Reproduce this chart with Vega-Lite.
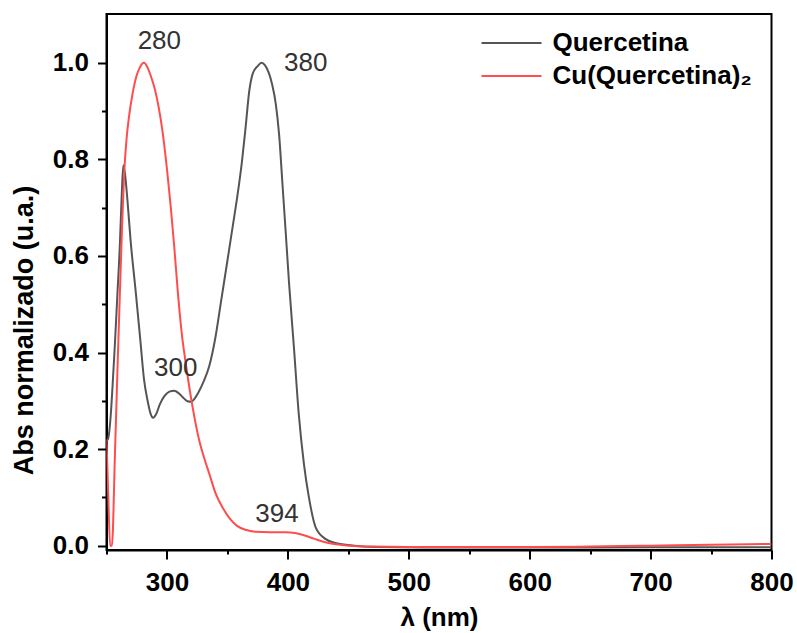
{
  "$schema": "https://vega.github.io/schema/vega-lite/v6.json",
  "autosize": {"type": "none"},
  "width": 665,
  "height": 536,
  "padding": {"left": 106.5, "top": 14, "right": 25.5, "bottom": 83},
  "background": "white",
  "config": {"view": {"stroke": "black", "strokeWidth": 2}, "font": "Liberation Sans"},
  "datasets": {
    "spectra": [
      {"series": "Quercetina", "lambda": 250, "abs": 0.22},
      {"series": "Quercetina", "lambda": 251, "abs": 0.219},
      {"series": "Quercetina", "lambda": 252, "abs": 0.23},
      {"series": "Quercetina", "lambda": 253.5, "abs": 0.27},
      {"series": "Quercetina", "lambda": 255, "abs": 0.33},
      {"series": "Quercetina", "lambda": 257, "abs": 0.42},
      {"series": "Quercetina", "lambda": 259, "abs": 0.52},
      {"series": "Quercetina", "lambda": 261, "abs": 0.62},
      {"series": "Quercetina", "lambda": 262.5, "abs": 0.72},
      {"series": "Quercetina", "lambda": 263.9, "abs": 0.788},
      {"series": "Quercetina", "lambda": 265.3, "abs": 0.77},
      {"series": "Quercetina", "lambda": 267.3, "abs": 0.716},
      {"series": "Quercetina", "lambda": 270, "abs": 0.63},
      {"series": "Quercetina", "lambda": 274.2, "abs": 0.525},
      {"series": "Quercetina", "lambda": 278, "abs": 0.425},
      {"series": "Quercetina", "lambda": 281, "abs": 0.345},
      {"series": "Quercetina", "lambda": 284, "abs": 0.3},
      {"series": "Quercetina", "lambda": 286.5, "abs": 0.273},
      {"series": "Quercetina", "lambda": 288.5, "abs": 0.265},
      {"series": "Quercetina", "lambda": 291, "abs": 0.272},
      {"series": "Quercetina", "lambda": 294, "abs": 0.292},
      {"series": "Quercetina", "lambda": 298, "abs": 0.31},
      {"series": "Quercetina", "lambda": 302, "abs": 0.319},
      {"series": "Quercetina", "lambda": 306, "abs": 0.321},
      {"series": "Quercetina", "lambda": 310, "abs": 0.315},
      {"series": "Quercetina", "lambda": 314, "abs": 0.305},
      {"series": "Quercetina", "lambda": 317, "abs": 0.299},
      {"series": "Quercetina", "lambda": 320, "abs": 0.298},
      {"series": "Quercetina", "lambda": 323, "abs": 0.305},
      {"series": "Quercetina", "lambda": 326, "abs": 0.317},
      {"series": "Quercetina", "lambda": 330, "abs": 0.338},
      {"series": "Quercetina", "lambda": 335, "abs": 0.372},
      {"series": "Quercetina", "lambda": 340, "abs": 0.43},
      {"series": "Quercetina", "lambda": 345, "abs": 0.51},
      {"series": "Quercetina", "lambda": 350, "abs": 0.59},
      {"series": "Quercetina", "lambda": 354, "abs": 0.655},
      {"series": "Quercetina", "lambda": 358, "abs": 0.72},
      {"series": "Quercetina", "lambda": 362, "abs": 0.795},
      {"series": "Quercetina", "lambda": 365, "abs": 0.865},
      {"series": "Quercetina", "lambda": 368, "abs": 0.94},
      {"series": "Quercetina", "lambda": 371, "abs": 0.978},
      {"series": "Quercetina", "lambda": 375, "abs": 0.993},
      {"series": "Quercetina", "lambda": 378.2, "abs": 1.0},
      {"series": "Quercetina", "lambda": 381, "abs": 0.995},
      {"series": "Quercetina", "lambda": 384.4, "abs": 0.978},
      {"series": "Quercetina", "lambda": 387, "abs": 0.955},
      {"series": "Quercetina", "lambda": 390, "abs": 0.915},
      {"series": "Quercetina", "lambda": 392.8, "abs": 0.85},
      {"series": "Quercetina", "lambda": 395.5, "abs": 0.75},
      {"series": "Quercetina", "lambda": 398.3, "abs": 0.646},
      {"series": "Quercetina", "lambda": 401, "abs": 0.543},
      {"series": "Quercetina", "lambda": 405, "abs": 0.411},
      {"series": "Quercetina", "lambda": 409, "abs": 0.273},
      {"series": "Quercetina", "lambda": 413.3, "abs": 0.169},
      {"series": "Quercetina", "lambda": 417.4, "abs": 0.1},
      {"series": "Quercetina", "lambda": 423, "abs": 0.038},
      {"series": "Quercetina", "lambda": 431, "abs": 0.014},
      {"series": "Quercetina", "lambda": 440, "abs": 0.005},
      {"series": "Quercetina", "lambda": 455, "abs": 0.0},
      {"series": "Quercetina", "lambda": 475, "abs": -0.003},
      {"series": "Quercetina", "lambda": 520, "abs": -0.004},
      {"series": "Quercetina", "lambda": 600, "abs": -0.004},
      {"series": "Quercetina", "lambda": 700, "abs": -0.0035},
      {"series": "Quercetina", "lambda": 800, "abs": -0.0035},
      {"series": "Cu(Quercetina)₂", "lambda": 250, "abs": 0.22},
      {"series": "Cu(Quercetina)₂", "lambda": 251.5, "abs": 0.1},
      {"series": "Cu(Quercetina)₂", "lambda": 253, "abs": 0.0},
      {"series": "Cu(Quercetina)₂", "lambda": 254.5, "abs": 0.0},
      {"series": "Cu(Quercetina)₂", "lambda": 257, "abs": 0.19},
      {"series": "Cu(Quercetina)₂", "lambda": 259.5, "abs": 0.4},
      {"series": "Cu(Quercetina)₂", "lambda": 261.3, "abs": 0.54},
      {"series": "Cu(Quercetina)₂", "lambda": 263, "abs": 0.67},
      {"series": "Cu(Quercetina)₂", "lambda": 264.6, "abs": 0.77},
      {"series": "Cu(Quercetina)₂", "lambda": 266.5, "abs": 0.84},
      {"series": "Cu(Quercetina)₂", "lambda": 268.7, "abs": 0.89},
      {"series": "Cu(Quercetina)₂", "lambda": 271.5, "abs": 0.935},
      {"series": "Cu(Quercetina)₂", "lambda": 274.5, "abs": 0.97},
      {"series": "Cu(Quercetina)₂", "lambda": 277.5, "abs": 0.99},
      {"series": "Cu(Quercetina)₂", "lambda": 281, "abs": 1.0},
      {"series": "Cu(Quercetina)₂", "lambda": 284, "abs": 0.99},
      {"series": "Cu(Quercetina)₂", "lambda": 287, "abs": 0.97},
      {"series": "Cu(Quercetina)₂", "lambda": 290, "abs": 0.945},
      {"series": "Cu(Quercetina)₂", "lambda": 293, "abs": 0.91},
      {"series": "Cu(Quercetina)₂", "lambda": 296.5, "abs": 0.855},
      {"series": "Cu(Quercetina)₂", "lambda": 300, "abs": 0.78},
      {"series": "Cu(Quercetina)₂", "lambda": 303, "abs": 0.705},
      {"series": "Cu(Quercetina)₂", "lambda": 306, "abs": 0.62},
      {"series": "Cu(Quercetina)₂", "lambda": 309, "abs": 0.525},
      {"series": "Cu(Quercetina)₂", "lambda": 312, "abs": 0.445},
      {"series": "Cu(Quercetina)₂", "lambda": 316, "abs": 0.37},
      {"series": "Cu(Quercetina)₂", "lambda": 321, "abs": 0.29},
      {"series": "Cu(Quercetina)₂", "lambda": 326.5, "abs": 0.22},
      {"series": "Cu(Quercetina)₂", "lambda": 331, "abs": 0.18},
      {"series": "Cu(Quercetina)₂", "lambda": 335, "abs": 0.149},
      {"series": "Cu(Quercetina)₂", "lambda": 340, "abs": 0.11},
      {"series": "Cu(Quercetina)₂", "lambda": 346, "abs": 0.079},
      {"series": "Cu(Quercetina)₂", "lambda": 352, "abs": 0.056},
      {"series": "Cu(Quercetina)₂", "lambda": 358, "abs": 0.041},
      {"series": "Cu(Quercetina)₂", "lambda": 365, "abs": 0.033},
      {"series": "Cu(Quercetina)₂", "lambda": 373, "abs": 0.029},
      {"series": "Cu(Quercetina)₂", "lambda": 385, "abs": 0.028},
      {"series": "Cu(Quercetina)₂", "lambda": 398, "abs": 0.028},
      {"series": "Cu(Quercetina)₂", "lambda": 406, "abs": 0.026},
      {"series": "Cu(Quercetina)₂", "lambda": 414, "abs": 0.021},
      {"series": "Cu(Quercetina)₂", "lambda": 422, "abs": 0.014},
      {"series": "Cu(Quercetina)₂", "lambda": 431, "abs": 0.007},
      {"series": "Cu(Quercetina)₂", "lambda": 440, "abs": 0.003},
      {"series": "Cu(Quercetina)₂", "lambda": 451, "abs": 0.0},
      {"series": "Cu(Quercetina)₂", "lambda": 470, "abs": -0.002},
      {"series": "Cu(Quercetina)₂", "lambda": 500, "abs": -0.003},
      {"series": "Cu(Quercetina)₂", "lambda": 600, "abs": -0.003},
      {"series": "Cu(Quercetina)₂", "lambda": 650, "abs": -0.002},
      {"series": "Cu(Quercetina)₂", "lambda": 700, "abs": 0.0},
      {"series": "Cu(Quercetina)₂", "lambda": 750, "abs": 0.002},
      {"series": "Cu(Quercetina)₂", "lambda": 800, "abs": 0.0035}
    ],
    "labels": [
      {"label": "280", "lambda": 293.7, "abs": 1.045},
      {"label": "380", "lambda": 414.8, "abs": 1.0},
      {"label": "300", "lambda": 307.3, "abs": 0.367},
      {"label": "394", "lambda": 391, "abs": 0.066}
    ]
  },
  "layer": [
    {
      "data": {"name": "spectra"},
      "mark": {"type": "line", "interpolate": "monotone", "strokeWidth": 2, "clip": true},
      "encoding": {
        "x": {
          "field": "lambda", "type": "quantitative",
          "scale": {"domain": [250, 800], "nice": false, "zero": false},
          "axis": {
            "orient": "bottom", "values": [300, 400, 500, 600, 700, 800], "grid": false,
            "domainColor": "black", "domainWidth": 2, "tickColor": "black", "tickWidth": 2, "tickSize": 9,
            "labelFontSize": 26, "labelFontWeight": "bold", "labelColor": "black", "labelPadding": 10,
            "labelFlush": false, "labelOverlap": false,
            "title": "λ (nm)", "titleFontSize": 26, "titleFontWeight": "bold", "titleColor": "black",
            "titleY": 67, "titleBaseline": "middle"
          }
        },
        "y": {
          "field": "abs", "type": "quantitative",
          "scale": {"domain": [-0.009, 1.101], "nice": false, "zero": false},
          "axis": {
            "orient": "left", "values": [0, 0.2, 0.4, 0.6, 0.8, 1.0], "format": ".1f", "grid": false,
            "domainColor": "black", "domainWidth": 2, "tickColor": "black", "tickWidth": 2, "tickSize": 9,
            "labelFontSize": 26, "labelFontWeight": "bold", "labelColor": "black", "labelPadding": 9,
            "labelFlush": false, "labelOverlap": false,
            "title": "Abs normalizado (u.a.)", "titleFontSize": 27, "titleFontWeight": "bold", "titleColor": "black",
            "titleX": -82, "titleY": 316, "titleBaseline": "middle", "titleAlign": "center", "titleAngle": 270
          }
        },
        "color": {
          "field": "series", "type": "nominal",
          "scale": {"domain": ["Quercetina", "Cu(Quercetina)₂"], "range": ["#555555", "#ff4d4d"]},
          "legend": {
            "orient": "none", "legendX": 392, "legendY": 16, "title": null, "padding": 0,
            "symbolType": "M-3,0H3", "symbolSize": 400, "symbolStrokeWidth": 2,
            "labelFontSize": 26, "labelFontWeight": "bold", "labelColor": "black", "labelOffset": 28,
            "labelLimit": 0, "rowPadding": 7
          }
        }
      }
    },
    {
      "data": {"name": "labels"},
      "mark": {"type": "text", "fontSize": 26, "color": "#333333", "align": "center", "baseline": "middle"},
      "encoding": {
        "x": {
          "field": "lambda", "type": "quantitative",
          "axis": {
            "orient": "bottom", "values": [250, 350, 450, 550, 650, 750], "grid": false, "domain": false,
            "labels": false, "title": null, "tickColor": "black", "tickWidth": 2, "tickSize": 4
          }
        },
        "y": {
          "field": "abs", "type": "quantitative",
          "axis": {
            "orient": "left", "values": [0.1, 0.3, 0.5, 0.7, 0.9], "grid": false, "domain": false,
            "labels": false, "title": null, "tickColor": "black", "tickWidth": 2, "tickSize": 5
          }
        },
        "text": {"field": "label"}
      }
    }
  ],
  "resolve": {"axis": {"x": "independent", "y": "independent"}}
}
